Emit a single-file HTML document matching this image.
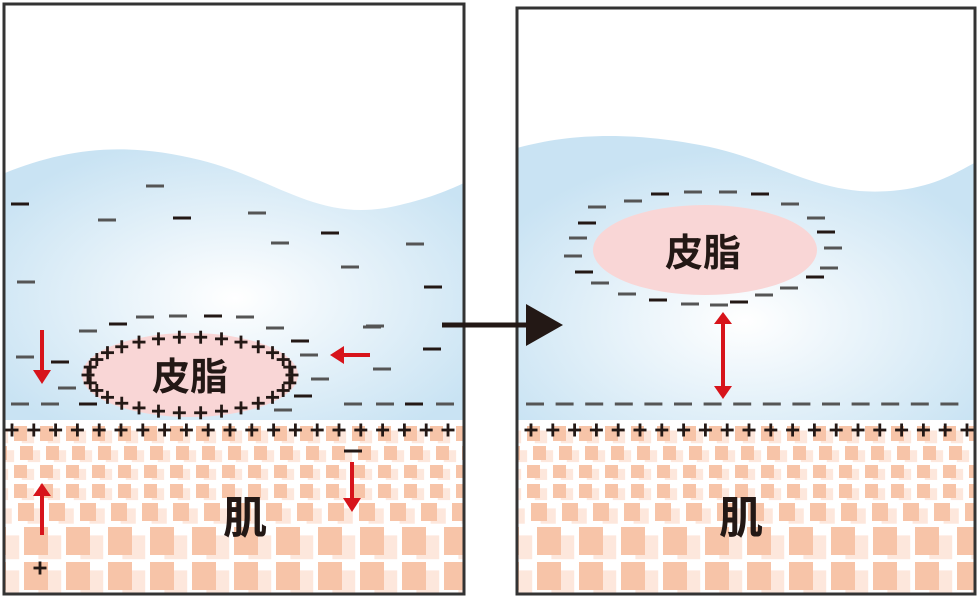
<!DOCTYPE html>
<html><head><meta charset="utf-8"><style>
html,body{margin:0;padding:0;background:#fff;}
svg{display:block;}
text{font-family:"Liberation Sans","Noto Sans CJK JP",sans-serif;font-weight:bold;fill:#231815;}
</style></head><body>
<svg id="s" width="979" height="598" viewBox="0 0 979 598" xmlns="http://www.w3.org/2000/svg">
<defs>
<radialGradient id="wg" cx="0.5" cy="0.55" r="0.6">
<stop offset="0" stop-color="#ffffff"/><stop offset="1" stop-color="#c9e3f3"/>
</radialGradient>
<radialGradient id="wg2" cx="0.5" cy="0.65" r="0.6">
<stop offset="0" stop-color="#ffffff"/><stop offset="1" stop-color="#c9e3f3"/>
</radialGradient>
<clipPath id="cL"><rect x="5" y="5" width="458" height="588"/></clipPath>
<clipPath id="cR"><rect x="518" y="9" width="456" height="584"/></clipPath>
</defs>
<g clip-path="url(#cL)">
<path d="M0 175 C60 150 120 140 200 160 C280 180 320 225 400 205 C430 198 450 190 470 180 L470 420 L0 420Z" fill="url(#wg)"/>
<rect x="0" y="420" width="470" height="180" fill="#fff"/>
<g id="skinL"></g>
</g>
<g clip-path="url(#cR)">
<path d="M510 150 C560 135 620 130 700 145 C780 160 820 200 900 190 C940 185 960 170 980 160 L980 420 L510 420Z" fill="url(#wg2)"/>
<rect x="510" y="420" width="470" height="180" fill="#fff"/>
<g id="skinR"></g>
</g>
<rect x="4" y="4" width="460" height="590" fill="none" stroke="#333" stroke-width="3"/>
<rect x="517" y="8" width="458" height="586" fill="none" stroke="#333" stroke-width="3"/>
<ellipse cx="190" cy="375" rx="108" ry="42" fill="#f9d6d6"/>
<ellipse cx="705" cy="250" rx="112" ry="45" fill="#f9d6d6"/>
<g id="marks"></g>
<text x="190" y="390" font-size="38" text-anchor="middle">皮脂</text>
<text x="703" y="266" font-size="38" text-anchor="middle">皮脂</text>
<text x="245" y="533" font-size="44" text-anchor="middle">肌</text>
<text x="741" y="533" font-size="44" text-anchor="middle">肌</text>
<line x1="442" y1="325" x2="530" y2="325" stroke="#231815" stroke-width="5"/>
<polygon points="526,304 563,325 526,346" fill="#231815"/>
<g fill="#d7141b" stroke="#d7141b">
<line x1="42" y1="330" x2="42" y2="372" stroke-width="4"/><polygon points="33,370 51,370 42,384" stroke="none"/>
<line x1="370" y1="355" x2="342" y2="355" stroke-width="4"/><polygon points="344,346 344,364 330,355" stroke="none"/>
<line x1="42" y1="535" x2="42" y2="494" stroke-width="4"/><polygon points="33,496 51,496 42,483" stroke="none"/>
<line x1="352" y1="462" x2="352" y2="500" stroke-width="4"/><polygon points="343,498 361,498 352,512" stroke="none"/>
<line x1="723" y1="322" x2="723" y2="388" stroke-width="4"/><polygon points="714,324 732,324 723,312" stroke="none"/><polygon points="714,386 732,386 723,399" stroke="none"/>
</g>
</svg>
<script>
var NS="http://www.w3.org/2000/svg";
function el(p,t,a){var e=document.createElementNS(NS,t);for(var k in a)e.setAttribute(k,a[k]);p.appendChild(e);return e;}
function skin(g,x0,x1){
 var rows=[[426,15,13,26,10],[446,14,13,26,16],[465,13,13,26,10],[484,14,13,26,10],[503,18,16,31,14],[527,28,24,42,20],[562,28,24,42,20]];
 rows.forEach(function(r,i){
  for(var x=x0+r[4]-r[3];x<x1;x+=r[3]){
   el(g,"rect",{x:x+r[2]*0.6,y:r[0]+r[1]*0.3,width:r[2]*0.95,height:r[1]*0.85,fill:"#fde7dc"});
   el(g,"rect",{x:x,y:r[0],width:r[2],height:r[1],fill:"#f7c4a8"});
  }
 });
}
skin(document.getElementById("skinL"),4,466);
skin(document.getElementById("skinR"),517,977);
var m=document.getElementById("marks");
function minus(x,y,c){el(m,"rect",{x:x-9,y:y-1.5,width:18,height:3,fill:c||"#3a3a3a"});}
function plus(x,y){el(m,"rect",{x:x-6.5,y:y-1.4,width:13,height:2.8,fill:"#231815"});el(m,"rect",{x:x-1.4,y:y-6.5,width:2.8,height:13,fill:"#231815"});}
[[20,204],[155,186],[107,220],[182,218],[257,213],[280,243],[330,233],[350,267],[415,244],[433,287],[26,282],
[25,357],[60,362],[67,388],[88,331],[118,324],[145,317],[178,316],[213,316],[245,317],[275,328],[300,341],[309,355],[320,379],[303,396],[283,410],[372,327],[432,349],[382,369],[375,326],[353,451],
[20,404],[50,404],[88,404],[353,404],[385,404],[414,404],[445,404]].forEach(function(p,i){minus(p[0],p[1],i%3==0?"#231815":"#555");});
[[660,194],[693,192],[728,192],[760,194],[790,204],[816,218],[826,232],[833,248],[829,268],[815,277],[789,288],[764,295],[739,302],[719,305],[690,304],[658,300],[627,294],[600,283],[584,272],[573,256],[578,238],[587,223],[597,207],[633,201]].forEach(function(p,i){minus(p[0],p[1],i%3==0?"#231815":"#555");});
for(var i=0;i<15;i++)minus(535+i*29.6,404,"#555");
for(var i=0;i<30;i++){var a=i/30*Math.PI*2;plus(190+102*Math.cos(a),375+38*Math.sin(a));}
for(var x=12;x<462;x+=21.8)plus(x,430);
for(var x=531;x<975;x+=21.8)plus(x,430);
plus(40,568);
</script>
</body></html>
